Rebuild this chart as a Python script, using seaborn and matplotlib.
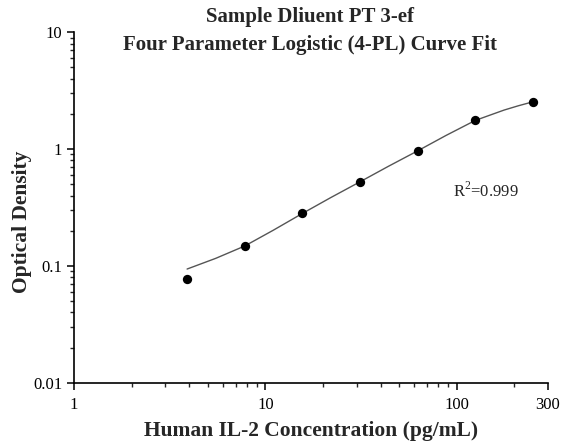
import matplotlib
matplotlib.use("Agg")
import matplotlib.pyplot as plt
import matplotlib.ticker as mticker
import seaborn as sns
import pandas as pd

# standard points
conc = [3.9, 7.8, 15.6, 31.25, 62.5, 125, 250]
od = [0.077, 0.149, 0.281, 0.525, 0.966, 1.76, 2.54]

# fitted curve
curve_x = [3.9, 5.5, 7.8, 11, 15.6, 22, 31.25, 44, 62.5, 88, 125, 150, 177, 210, 250]
curve_y = [0.094, 0.116, 0.148, 0.202, 0.281, 0.385, 0.525, 0.713, 0.966, 1.31, 1.76, 1.96, 2.16, 2.35, 2.54]

title_lines = ["Sample Dliuent PT 3-ef", "Four Parameter Logistic (4-PL) Curve Fit"]
r2_text = "R$^2$=0.999"

sns.set_style("ticks")
plt.rcParams['font.family'] = ['Liberation Serif', 'DejaVu Serif']
plt.rcParams['mathtext.fontset'] = 'custom'
plt.rcParams['mathtext.rm'] = 'Liberation Serif'

pts = pd.DataFrame({"conc": conc, "od": od})
fit = pd.DataFrame({"conc": curve_x, "od": curve_y})

fig = plt.figure(figsize=(5.63, 4.45), dpi=100)
ax = fig.add_axes([0.1314, 0.14, 0.842, 0.7874])

sns.lineplot(data=fit, x="conc", y="od", ax=ax, color="#555555", linewidth=1.0)
sns.scatterplot(data=pts, x="conc", y="od", ax=ax, color="black", s=45,
                edgecolor="black", linewidth=0, zorder=3)

ax.set_xscale("log")
ax.set_yscale("log")
ax.set_xlim(1, 300)
ax.set_ylim(0.01, 10)

ax.xaxis.set_major_locator(mticker.FixedLocator([1, 10, 100, 300]))
ax.xaxis.set_major_formatter(mticker.FixedFormatter(["1", "10", "100", "300"]))
ax.xaxis.set_minor_locator(mticker.FixedLocator([2, 3, 4, 5, 6, 7, 8, 9, 20, 30, 40, 50, 60, 70, 80, 90, 200]))
ax.xaxis.set_minor_formatter(mticker.NullFormatter())
ax.yaxis.set_major_locator(mticker.FixedLocator([0.01, 0.1, 1, 10]))
ax.yaxis.set_major_formatter(mticker.FixedFormatter(["0.01", "0.1", "1", "10"]))
ax.yaxis.set_minor_locator(mticker.LogLocator(base=10, subs=range(2, 10)))
ax.yaxis.set_minor_formatter(mticker.NullFormatter())

ax.tick_params(which="major", length=5, width=1.1, labelsize=12, colors="black")
ax.tick_params(axis="x", which="major", pad=5)
ax.tick_params(which="minor", length=3, width=1.0)
for s in ["left", "bottom"]:
    ax.spines[s].set_linewidth(1.2)
    ax.spines[s].set_color("black")
sns.despine(ax=ax)

ax.set_xlabel("Human IL-2 Concentration (pg/mL)", fontsize=15.5, fontweight="bold", labelpad=6)
ax.set_ylabel("")
fig.text(22 / 563, 1 - 222 / 445, "Optical Density", fontsize=15.5, fontweight="bold",
         rotation=90, ha="center", va="center")

# two-line title, second line sits below the top of the axes
fig.text(0.551, 1 - 17 / 445, title_lines[0], fontsize=15, fontweight="bold", ha="center", va="center")
fig.text(0.551, 1 - 45 / 445, title_lines[1], fontsize=15, fontweight="bold", ha="center", va="center")

ax.text(96, 0.44, r2_text, fontsize=12, va="center", ha="left")

fig.savefig("out.png", dpi=100)
